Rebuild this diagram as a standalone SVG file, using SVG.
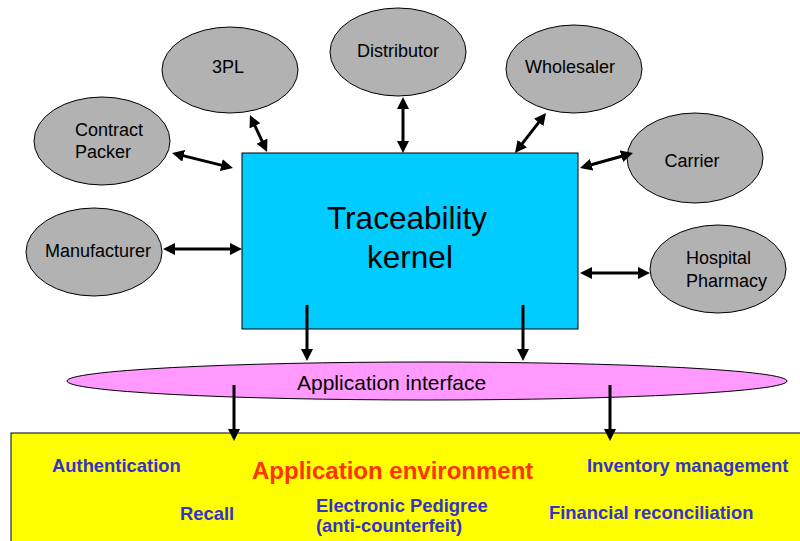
<svg xmlns="http://www.w3.org/2000/svg" width="800" height="541" viewBox="0 0 800 541">
<style>
.node{fill:#B2B2B2;stroke:#000;stroke-width:1}
.lbl{font-family:"Liberation Sans",Arial,sans-serif;font-size:18px;fill:#000}
.c{text-anchor:middle}
.conn{stroke:#000;stroke-width:3;fill:none}
.blue{font-family:"Liberation Sans",Arial,sans-serif;font-size:18.4px;font-weight:bold;fill:#3333CC}
</style>
<defs>
<marker id="ah" markerUnits="userSpaceOnUse" markerWidth="12" markerHeight="12" viewBox="0 0 12 12" refX="4" refY="6" orient="auto-start-reverse">
<path d="M0,0 L12,6 L0,12 z" fill="#000"/>
</marker>
</defs>
<rect width="800" height="541" fill="#fff"/>
<g id="app-environment">
<rect x="11" y="433" width="795" height="115" fill="#FFFF00" stroke="#000" stroke-width="1"/>
<text x="252" y="479" style="font-family:'Liberation Sans',Arial,sans-serif;font-size:24px;font-weight:bold;fill:#FF3300">Application environment</text>
<text class="blue" x="52" y="472">Authentication</text>
<text class="blue" x="587" y="472">Inventory management</text>
<text class="blue" x="180" y="520">Recall</text>
<text class="blue" x="316" y="512">Electronic Pedigree</text>
<text class="blue" x="316" y="532">(anti-counterfeit)</text>
<text class="blue" x="549" y="519">Financial reconciliation</text>
</g>
<g id="app-interface">
<ellipse cx="427" cy="381" rx="360" ry="19" fill="#FF99FF" stroke="#000" stroke-width="1"/>
<text class="lbl" x="297" y="390" style="font-size:21px">Application interface</text>
</g>
<g id="kernel">
<rect x="242" y="153" width="336" height="176" fill="#00CCFF" stroke="#000" stroke-width="1"/>
<text class="lbl c" x="407" y="229" style="font-size:31.5px">Traceability</text>
<text class="lbl c" x="410" y="268" style="font-size:31.5px">kernel</text>
</g>
<g id="n-3pl">
<ellipse class="node" cx="230" cy="70" rx="68" ry="43"/>
<text class="lbl c" x="228" y="73">3PL</text>
</g>
<g id="n-distributor">
<ellipse class="node" cx="398" cy="52" rx="68" ry="44"/>
<text class="lbl c" x="398" y="57">Distributor</text>
</g>
<g id="n-wholesaler">
<ellipse class="node" cx="574" cy="69" rx="68" ry="44"/>
<text class="lbl c" x="570" y="73">Wholesaler</text>
</g>
<g id="n-contract-packer">
<ellipse class="node" cx="102" cy="141" rx="68" ry="44"/>
<text class="lbl" x="75" y="136">Contract</text>
<text class="lbl" x="75" y="158">Packer</text>
</g>
<g id="n-carrier">
<ellipse class="node" cx="695" cy="158" rx="68" ry="45"/>
<text class="lbl c" x="692" y="167">Carrier</text>
</g>
<g id="n-manufacturer">
<ellipse class="node" cx="94" cy="252" rx="68" ry="44"/>
<text class="lbl c" x="98" y="257">Manufacturer</text>
</g>
<g id="n-hospital-pharmacy">
<ellipse class="node" cx="718" cy="269" rx="68" ry="44"/>
<text class="lbl" x="686" y="264">Hospital</text>
<text class="lbl" x="686" y="287">Pharmacy</text>
</g>
<g id="connectors">
<line class="conn" x1="253.3" y1="122.3" x2="263.7" y2="144.7" marker-start="url(#ah)" marker-end="url(#ah)"/>
<line class="conn" x1="179.8" y1="154.9" x2="225.2" y2="166.1" marker-start="url(#ah)" marker-end="url(#ah)"/>
<line class="conn" x1="403" y1="105" x2="403" y2="145" marker-start="url(#ah)" marker-end="url(#ah)"/>
<line class="conn" x1="541.1" y1="119.3" x2="519.9" y2="146.7" marker-start="url(#ah)" marker-end="url(#ah)"/>
<line class="conn" x1="587.7" y1="165.8" x2="625.3" y2="155.2" marker-start="url(#ah)" marker-end="url(#ah)"/>
<line class="conn" x1="171" y1="249" x2="234" y2="249" marker-start="url(#ah)" marker-end="url(#ah)"/>
<line class="conn" x1="588" y1="273" x2="642" y2="273" marker-start="url(#ah)" marker-end="url(#ah)"/>
<line class="conn" x1="307" y1="305" x2="307" y2="353" marker-end="url(#ah)"/>
<line class="conn" x1="523" y1="305" x2="523" y2="353" marker-end="url(#ah)"/>
<line class="conn" x1="234" y1="385" x2="234" y2="433" marker-end="url(#ah)"/>
<line class="conn" x1="610" y1="385" x2="610" y2="433" marker-end="url(#ah)"/>
</g>
</svg>
